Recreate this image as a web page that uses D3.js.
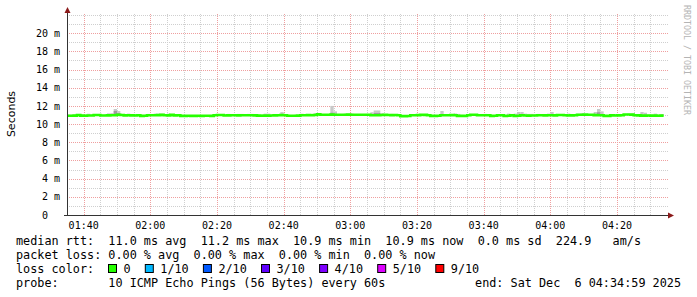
<!DOCTYPE html>
<html>
<head>
<meta charset="utf-8">
<script src="https://cdn.jsdelivr.net/npm/d3@7"></script>
<style>
  body { margin: 0; background: #fff; }
  text { font-family: "DejaVu Sans Mono", monospace; white-space: pre; }
</style>
</head>
<body>
<svg id="chart"></svg>
<script>
// median rtt per minute (ms), starting 01:35 -- last minute has no sample yet
const median = [
  10.92, 10.92, 10.93, 11.00, 10.93, 10.92, 10.95, 10.95, 11.00, 11.00,
  10.95, 10.94, 10.96, 10.97, 10.98, 11.02, 11.00, 10.96, 10.97, 10.96,
  10.95, 10.97, 10.90, 10.91, 10.97, 10.98, 10.97, 10.99, 11.01, 10.97,
  10.96, 11.01, 10.96, 10.97, 10.90, 10.90, 10.91, 10.90, 10.90, 10.91,
  10.90, 10.91, 10.92, 10.90, 10.98, 11.00, 11.00, 10.94, 10.96, 10.98,
  10.97, 10.96, 10.98, 10.97, 10.98, 10.97, 10.96, 10.93, 10.92, 10.93,
  10.93, 10.95, 10.96, 10.98, 10.99, 10.97, 10.92, 10.91, 10.92, 10.93,
  10.97, 10.98, 10.99, 10.98, 11.00, 11.07, 11.02, 11.03, 11.03, 11.04,
  11.03, 11.03, 11.02, 11.03, 11.04, 11.03, 11.02, 11.03, 11.02, 11.03,
  11.03, 10.97, 10.98, 10.97, 11.00, 11.01, 11.00, 10.99, 11.00, 10.98,
  10.88, 10.88, 10.89, 10.97, 10.98, 10.99, 11.02, 11.01, 10.98, 10.90,
  10.90, 10.91, 10.97, 10.98, 10.97, 10.99, 10.98, 10.89, 10.90, 10.89,
  10.98, 11.03, 11.02, 10.98, 10.97, 10.98, 10.97, 10.90, 10.91, 10.98,
  10.97, 10.90, 10.91, 10.97, 10.90, 10.91, 10.98, 10.95, 10.93, 10.94,
  10.95, 10.97, 10.98, 10.96, 10.97, 10.98, 10.96, 11.00, 11.00, 10.97,
  10.95, 10.96, 10.97, 11.03, 11.03, 11.04, 11.03, 11.02, 10.99, 10.98,
  10.97, 10.90, 10.90, 10.96, 10.95, 10.96, 10.97, 11.05, 11.05, 11.04,
  10.98, 10.96, 10.93, 10.93, 10.94, 10.93, 10.93, 10.92, 10.93
];

// slowest ping of each minute (top of the smoke)
const smokeHi = [
  11.04, 11.04, 11.04, 11.04, 11.04, 11.04, 11.14, 11.04, 11.08, 11.08,
  11.04, 11.04, 11.18, 11.20, 11.66, 11.44, 11.06, 11.04, 11.15, 11.04,
  11.04, 11.04, 11.02, 11.02, 11.12, 11.04, 11.15, 11.15, 11.15, 11.04,
  11.15, 11.08, 11.04, 11.04, 11.00, 11.00, 11.00, 11.00, 11.00, 11.00,
  11.00, 11.00, 11.00, 11.00, 11.06, 11.08, 11.08, 11.04, 11.12, 11.06,
  11.04, 11.12, 11.12, 11.04, 11.12, 11.12, 11.04, 11.02, 11.02, 11.15,
  11.15, 11.04, 11.04, 11.06, 11.32, 11.04, 11.02, 11.00, 11.02, 11.02,
  11.14, 11.06, 11.06, 11.06, 11.20, 11.20, 11.10, 11.10, 11.10, 12.00,
  11.40, 11.10, 11.10, 11.15, 11.15, 11.15, 11.10, 11.10, 11.10, 11.10,
  11.12, 11.30, 11.50, 11.50, 11.20, 11.08, 11.08, 11.12, 11.08, 11.06,
  10.98, 10.98, 10.98, 11.05, 11.06, 11.06, 11.10, 11.10, 11.06, 11.00,
  11.00, 11.00, 11.44, 11.06, 11.05, 11.06, 11.15, 11.12, 11.00, 11.00,
  11.06, 11.10, 11.10, 11.06, 11.05, 11.12, 11.05, 11.00, 11.00, 11.06,
  11.05, 11.00, 11.15, 11.05, 11.15, 11.33, 11.33, 11.15, 11.12, 11.12,
  11.04, 11.12, 11.06, 11.04, 11.15, 11.33, 11.04, 11.08, 11.08, 11.04,
  11.15, 11.04, 11.04, 11.14, 11.20, 11.10, 11.10, 11.10, 11.33, 11.66,
  11.40, 11.00, 11.00, 11.04, 11.04, 11.04, 11.04, 11.12, 11.15, 11.15,
  11.06, 11.04, 11.33, 11.25, 11.04, 11.02, 11.15, 11.02, 11.10
];

// denser inner smoke, only where it shows above the median line
const darkIdx = [14, 15, 79, 92, 93, 116, 159];
const darkTop = [11.45, 11.22, 11.25, 11.22, 11.22, 11.12, 11.30];

const yMajor = [2, 4, 6, 8, 10, 12, 14, 16, 18, 20];
const yMinor = [1, 3, 5, 7, 9, 11, 13, 15, 17, 19, 21, 22];
const yLabels = [0, 2, 4, 6, 8, 10, 12, 14, 16, 18, 20];

const lossLabels = ["0", "1/10", "2/10", "3/10", "4/10", "5/10", "9/10"];
const lossColors = ["#26ff00", "#00b8ff", "#0059ff", "#5e00ff", "#7e00ff", "#dd00ff", "#ff0000"];

const rttLine = "median rtt:  11.0 ms avg  11.2 ms max  10.9 ms min  10.9 ms now  0.0 ms sd  224.9   am/s";
const lossLine = "packet loss: 0.00 % avg  0.00 % max  0.00 % min  0.00 % now";
const probeLine = "probe:       10 ICMP Echo Pings (56 Bytes) every 60s";
const endLine = "end: Sat Dec  6 04:34:59 2025";

const W = 697, H = 297;
const start = new Date(2025, 11, 6, 1, 35), end = new Date(2025, 11, 6, 4, 35);

const svg = d3.select("#chart").attr("width", W).attr("height", H);
svg.append("rect").attr("width", W).attr("height", H).attr("fill", "#fff");

const x = d3.scaleTime().domain([start, end]).range([67, 667]);
const y = d3.scaleLinear().domain([0, 22]).range([215, 15]);
const t = i => d3.timeMinute.offset(start, i);
const py = v => Math.round(y(v)) + 0.5;
const px = d => Math.round(x(d)) + 0.5;

// grid
const grid = svg.append("g").attr("stroke-width", 1).attr("stroke-dasharray", "1,1");
grid.selectAll(".hmin").data(yMinor).enter().append("line")
    .attr("x1", 67).attr("x2", 668).attr("y1", py).attr("y2", py)
    .attr("stroke", "#cfcfcf");
const vMinor = d3.timeMinute.every(5).range(t(5), end).filter(d => d.getMinutes() % 20 !== 0);
const vMajor = d3.timeMinute.every(20).range(t(1), end);
grid.selectAll(".vmin").data(vMinor).enter().append("line")
    .attr("x1", px).attr("x2", px).attr("y1", 14).attr("y2", 215)
    .attr("stroke", "#cfcfcf");
grid.selectAll(".hmaj").data(yMajor).enter().append("line")
    .attr("x1", 67).attr("x2", 668).attr("y1", py).attr("y2", py)
    .attr("stroke", "#ef9f9f");
grid.selectAll(".vmaj").data(vMajor).enter().append("line")
    .attr("x1", px).attr("x2", px).attr("y1", 14).attr("y2", 215)
    .attr("stroke", "#ef9f9f");

// smoke
svg.append("g").selectAll("rect").data(smokeHi).enter().append("rect")
    .attr("x", (d, i) => x(t(i)))
    .attr("width", (d, i) => x(t(i + 1)) - x(t(i)))
    .attr("y", (d, i) => y(Math.max(d, median[i])))
    .attr("height", (d, i) => Math.abs(y(median[i]) - y(d)))
    .attr("fill", "#c8c8c8");
svg.append("g").selectAll("rect").data(darkIdx).enter().append("rect")
    .attr("x", i => x(t(i)))
    .attr("width", i => x(t(i + 1)) - x(t(i)))
    .attr("y", (i, k) => y(darkTop[k]))
    .attr("height", (i, k) => y(median[i]) - y(darkTop[k]))
    .attr("fill", "#9c9c9c");

// median line, drawn as steps
const steps = median.flatMap((v, i) => [[t(i), v], [t(i + 1), v]]);
svg.append("path")
    .attr("d", d3.line().x(d => x(d[0])).y(d => y(d[1]))(steps))
    .attr("fill", "none")
    .attr("stroke", "#26ff00")
    .attr("stroke-width", 2.6);

// axes
svg.append("line").attr("x1", 67.5).attr("x2", 67.5).attr("y1", 216).attr("y2", 11)
    .attr("stroke", "#333");
svg.append("line").attr("x1", 64).attr("x2", 670).attr("y1", 215.5).attr("y2", 215.5)
    .attr("stroke", "#333");
svg.append("path").attr("d", "M64.5,13L70.5,13L67.5,7Z").attr("fill", "#8b1a1a");
svg.append("path").attr("d", "M668,212.5L668,218.5L674,215.5Z").attr("fill", "#8b1a1a");

// y labels
const yl = svg.append("g").attr("font-size", 10).attr("fill", "#000");
yl.selectAll(".num").data(yLabels).enter().append("text")
    .attr("x", 48).attr("y", d => y(d) + 3.6).attr("text-anchor", "end").text(d => d);
yl.selectAll(".unit").data(yLabels.filter(d => d > 0)).enter().append("text")
    .attr("x", 54).attr("y", d => y(d) + 3.6).text("m");

// x labels
svg.append("g").attr("font-size", 10).attr("fill", "#000")
  .selectAll("text").data(vMajor).enter().append("text")
    .attr("x", d => x(d)).attr("y", 229).attr("text-anchor", "middle")
    .text(d3.timeFormat("%H:%M"));

// axis title
svg.append("text").attr("transform", "translate(15,114) rotate(-90)")
    .attr("text-anchor", "middle").attr("font-size", 11)
    .style("font-family", "'DejaVu Sans', sans-serif").attr("fill", "#000")
    .text("Seconds");

// watermark
svg.append("text").attr("transform", "translate(684,5) rotate(90)")
    .attr("font-size", 8.3).attr("fill", "#b4b4b4")
    .text("RRDTOOL / TOBI OETIKER");

// legend
const lg = svg.append("g").attr("font-size", 11.8).attr("fill", "#000");
lg.append("text").attr("x", 16).attr("y", 245).text(rttLine);
lg.append("text").attr("x", 16).attr("y", 259).text(lossLine);
lg.append("text").attr("x", 16).attr("y", 273).text("loss color:");
let bx = 108.5;
lossLabels.forEach((lab, k) => {
  lg.append("rect").attr("x", bx).attr("y", 264.5).attr("width", 8).attr("height", 8)
    .attr("fill", lossColors[k]).attr("stroke", "#000");
  lg.append("text").attr("x", bx + 15).attr("y", 273).text(lab);
  bx += 15 + lab.length * 7.1 + 14.7;
});
lg.append("text").attr("x", 16).attr("y", 287).text(probeLine);
lg.append("text").attr("x", 681).attr("y", 287).attr("text-anchor", "end").text(endLine);
</script>
</body>
</html>
